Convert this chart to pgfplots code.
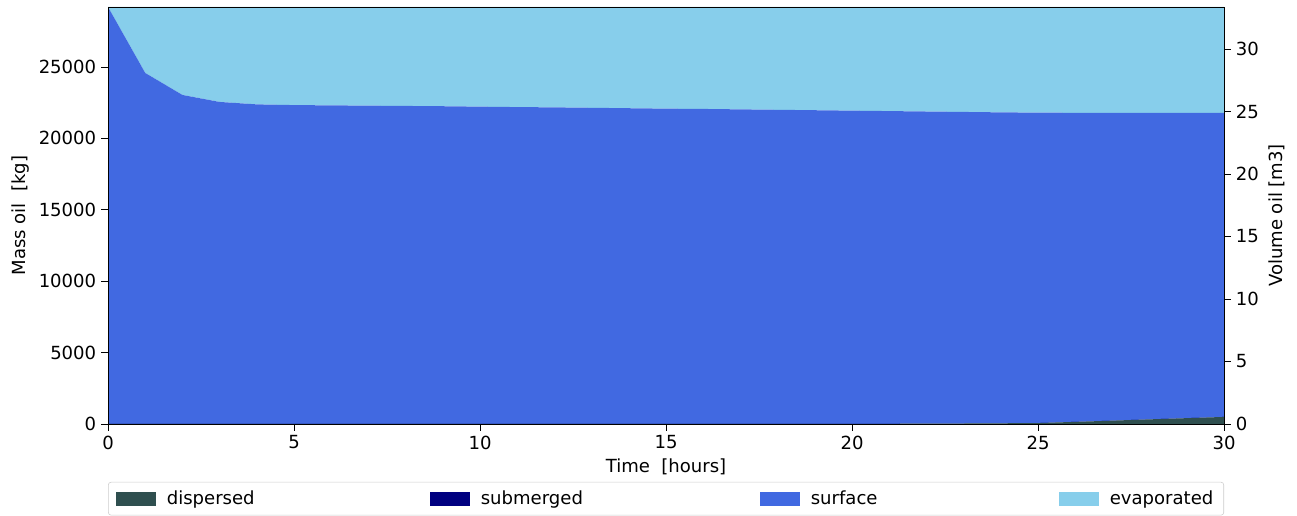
\documentclass[border=0pt]{standalone}
\usepackage{fontspec}
\setmainfont{DejaVu Sans}
\usepackage{pgfplots}
\pgfplotsset{compat=1.18}
\usepackage{pgfplotstable}

\definecolor{dispc}{HTML}{2F4F4F}
\definecolor{subc}{HTML}{000080}
\definecolor{surfc}{HTML}{4169E1}
\definecolor{evapc}{HTML}{87CEEB}

\pgfplotstableread{
t disp sub surf evap
0 0 0 29200 0
1 0 0 24580 4620
2 0 0 23040 6160
3 0 0 22550 6650
4 0 0 22380 6820
5 0 0 22330 6870
6 0 0 22310 6890
7 0 0 22290 6910
8 0 0 22270 6930
9 0 0 22250 6950
10 0 0 22220 6980
11 0 0 22190 7010
12 0 0 22170 7030
13 0 0 22140 7060
14 0 0 22110 7090
15 0 0 22080 7120
16 0 0 22060 7140
17 0 0 22030 7170
18 0 0 22000 7200
19 0 0 21970 7230
20 0 0 21940 7260
21 10 0 21900 7290
22 20 0 21860 7320
23 30 0 21820 7350
24 45 0 21775 7380
25 60 0 21740 7400
26 145 0 21645 7410
27 230 0 21560 7410
28 320 0 21470 7410
29 405 0 21385 7410
30 490 0 21300 7410
}\budget

\begin{document}
\begin{tikzpicture}[font=\fontsize{13}{15}\selectfont]
\begin{axis}[
  scale only axis, width=803.5pt, height=300.2pt,
  xmin=0, xmax=30, ymin=0, ymax=29200,
  xtick={0,5,...,30}, ytick={0,5000,...,25000},
  scaled y ticks=false,
  /pgf/number format/1000 sep={},
  /pgf/number format/assume math mode=true,
  tick align=outside, major tick length=5pt,
  xtick pos=bottom, ytick pos=left,
  tick style={black, line width=0.6pt},
  axis line style={line width=0.6pt},
  axis on top,
  stack plots=y,
  xlabel={Time\ \ [hours]},
  ylabel={Mass oil\ \ [kg]},
  xlabel shift=0pt, ylabel shift=0pt,
  legend columns=4,
  legend cell align=left,
  legend style={at={(axis description cs:0,-0.139)}, anchor=north west,
    draw=black!20, rounded corners=2pt, inner xsep=5.5pt, inner ysep=4.2pt,
    nodes={inner ysep=2pt},
    /tikz/every odd column/.append style={column sep=5.8pt},
    /tikz/every even column/.append style={column sep=0pt}},
  legend image code/.code={\fill[#1, sharp corners] (0pt,-5pt) rectangle (28.8pt,5pt);},
]
\addplot[fill=dispc, draw=none] table[x=t, y=disp] {\budget} \closedcycle;
\addlegendentry[text width=187.5pt]{dispersed}
\addplot[fill=subc, draw=none] table[x=t, y=sub] {\budget} \closedcycle;
\addlegendentry[text width=199pt]{submerged}
\addplot[fill=surfc, draw=none] table[x=t, y=surf] {\budget} \closedcycle;
\addlegendentry[text width=176.7pt]{surface}
\addplot[fill=evapc, draw=none] table[x=t, y=evap] {\budget} \closedcycle;
\addlegendentry{evaporated}
\coordinate (bl) at (rel axis cs:0,0);
\coordinate (tr) at (rel axis cs:1,1);
\end{axis}
\begin{axis}[
  scale only axis, width=803.5pt, height=300.2pt,
  xmin=0, xmax=30, ymin=0, ymax=33.36,
  axis x line=none, axis y line*=right,
  ytick={0,5,...,30},
  /pgf/number format/assume math mode=true,
  tick align=outside, major tick length=5pt,
  tick style={black, line width=0.6pt},
  axis line style={line width=0.6pt},
  ylabel={Volume oil [m3]},
  ylabel shift=0pt,
]
\addplot[draw=none] coordinates {(0,0) (30,0)};
\end{axis}
\pgfresetboundingbox
\path[use as bounding box] ([xshift=-77.8pt, yshift=-66.24pt]bl) rectangle ([xshift=52.56pt, yshift=5.04pt]tr);
\end{tikzpicture}
\end{document}
